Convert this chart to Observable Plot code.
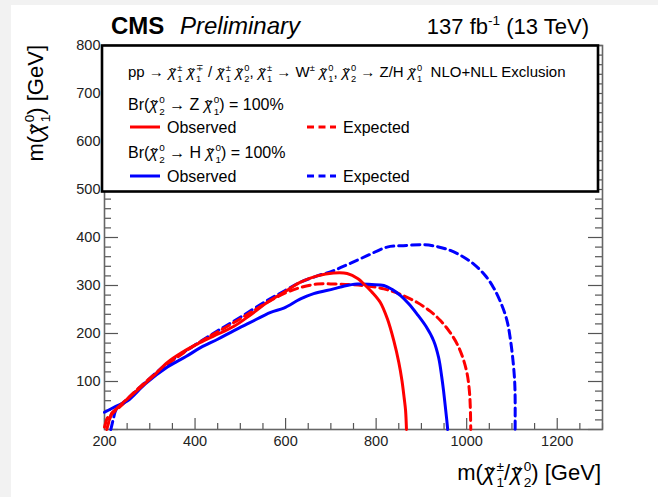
<!DOCTYPE html>
<html><head><meta charset="utf-8">
<script src="https://cdn.jsdelivr.net/npm/d3@7"></script>
<script src="https://cdn.jsdelivr.net/npm/@observablehq/plot@0.6"></script>
<style>
body{margin:0;background:#f2f2f2;}
#chart svg{display:block;}
</style>
</head><body><div id="chart"></div>
<script>
// ---- data (GeV) ----
const xTickLabels = [200, 400, 600, 800, 1000, 1200];
const yTickLabels = [100, 200, 300, 400, 500, 600, 700, 800];
const xMinor = d3.range(200, 1301, 50);
const yMinor = d3.range(0, 801, 20);

const obsZ = [[200,5],[203,15],[207,25],[211,21],[216,34],[225,42],[240,55],[251,64],[280,88],[310,113],[339,140],[370,160],[405,178],[440,194],[486,215],[520,237],[560,265],[600,288],[633,307],[670,320],[706,326],[736,325],[760,314],[773,303],[790,287],[809,265],[825,230],[839,185],[850,140],[857,102],[862,65],[865,40],[867,0]];
const expZ = [[205,0],[209,14],[214,29],[225,40],[240,52],[251,64],[280,90],[320,122],[360,150],[400,176],[449,203],[490,225],[523,244],[560,265],[596,283],[630,295],[670,303],[710,303],[743,302],[780,299],[817,293],[850,283],[890,265],[920,246],[942,227],[962,204],[979,178],[992,148],[1001,116],[1006,80],[1008,46],[1009,0]];
const obsH = [[200,36],[225,48],[251,60],[290,95],[339,130],[380,152],[413,171],[450,188],[486,206],[520,222],[567,244],[596,253],[633,272],[662,283],[706,293],[730,299],[758,303],[790,302],[817,300],[835,292],[854,279],[872,262],[890,241],[910,215],[927,185],[938,150],[945,109],[949,80],[953,46],[956,20],[958,0]];
const expH = [[214,0],[219,20],[224,38],[229,46],[240,55],[251,64],[290,98],[339,138],[400,176],[449,205],[500,234],[560,269],[600,290],[633,307],[670,320],[706,331],[740,345],[780,362],[824,380],[860,383],[905,385],[935,381],[964,373],[990,361],[1015,345],[1040,322],[1059,296],[1075,265],[1089,227],[1097,185],[1103,137],[1106,100],[1107,67],[1107,0]];

// ---- layout ----
const W = 658, H = 497;
const ml = 104, mr = 56, mt = 45, mb = 68;
const xDom = [200, 1300], yDom = [0, 800];
const kx = (xDom[1]-xDom[0])/(W-ml-mr);
const ky = (yDom[1]-yDom[0])/(H-mt-mb);
const RED = "#ff0000", BLUE = "#0000ff";
const tickC = "#555";
const lw = 3, dash = "8,5";

const lineOpts = (c, d) => ({x: p => p[0], y: p => p[1], stroke: c, strokeWidth: lw, strokeDasharray: d, curve: "catmull-rom"});

const chart = Plot.plot({
  width: W, height: H,
  marginLeft: ml, marginRight: mr, marginTop: mt, marginBottom: mb,
  x: {domain: xDom}, y: {domain: yDom},
  style: {fontFamily: "'Liberation Sans', Arial, sans-serif", fontSize: "14.5px", background: "transparent", color: "#222"},
  marks: [
    Plot.ruleX(xMinor, {x: d => d, y1: 0, y2: d => (d % 200 === 0 ? 11 : 6) * ky, stroke: tickC, strokeWidth: 1.2}),
    Plot.ruleY(yMinor, {y: d => d, x1: 200, x2: d => 200 + (d % 100 === 0 ? 14 : 7) * kx, stroke: tickC, strokeWidth: 1.2}),
    Plot.ruleY(yMinor, {y: d => d, x1: d => 1300 - (d % 100 === 0 ? 14 : 7) * kx, x2: 1300, stroke: tickC, strokeWidth: 1.2}),
    Plot.frame({stroke: "#666", strokeWidth: 1.6}),
    Plot.axisX(xTickLabels, {tickSize: 0, tickPadding: 6, label: null, fontSize: 14.5, tickFormat: d => String(d)}),
    Plot.axisY(yTickLabels, {tickSize: 0, tickPadding: 4, label: null, fontSize: 14.5, tickFormat: d => String(d)}),
    Plot.line(expH, lineOpts(BLUE, dash)),
    Plot.line(expZ, lineOpts(RED, dash)),
    Plot.line(obsH, lineOpts(BLUE, null)),
    Plot.line(obsZ, lineOpts(RED, null))
  ]
});
document.getElementById("chart").appendChild(chart);

const svg = d3.select(chart);
svg.style("background", "#f2f2f2");
svg.insert("rect", ":first-child").attr("x", 11).attr("y", 5).attr("width", W-11).attr("height", H-5).attr("fill", "#fff");

const FONT = "'Liberation Sans', Arial, sans-serif";
function txt(parent, x, y, s, size) {
  return parent.append("text").attr("x", x).attr("y", y).attr("font-family", FONT)
    .attr("font-size", size).attr("text-anchor", "start").attr("fill", "#000").text(s);
}
// rich text: #c(sup,sub) = chi-tilde with stacked scripts, ^(sup) = superscript
function rich(parent, x, y, str, size) {
  const t = parent.append("text").attr("x", x).attr("y", y).attr("text-anchor", "start")
    .attr("font-size", size).attr("font-family", FONT).attr("fill", "#000");
  const re = /#c\(([^,]*),([^)]*)\)|\^\(([^)]*)\)/g;
  const ss = size * 0.62;
  let last = 0, m, pad = 0;
  const len = s => s.node().getComputedTextLength();
  const plain = s => { const sp = t.append("tspan").attr("y", y).text(s); if (pad) sp.attr("dx", pad); pad = 0; };
  while ((m = re.exec(str))) {
    if (m.index > last) plain(str.slice(last, m.index));
    if (m[3] !== undefined) {
      t.append("tspan").attr("y", y - size * 0.4).attr("font-size", ss).text(m[3]);
    } else {
      const c = t.append("tspan").attr("y", y).attr("font-style", "italic").text("\u03C7");
      if (pad) c.attr("dx", pad); pad = 0;
      const wc = len(c);
      const tl = t.append("tspan").attr("y", y + size * 0.08).attr("font-size", size * 0.9).text("\u02DC");
      const wt = len(tl);
      tl.attr("dx", -(wc / 2 + wt / 2) + size * 0.05);
      const sup = t.append("tspan").attr("y", y - size * 0.42).attr("font-size", ss).text(m[1])
        .attr("dx", wc / 2 - wt / 2 + size * 0.02);
      const ws = len(sup);
      const sub = t.append("tspan").attr("dx", -ws).attr("y", y + size * 0.3).attr("font-size", ss).text(m[2]);
      const wb = len(sub);
      pad = Math.max(0, ws - wb);
    }
    last = re.lastIndex;
  }
  if (last < str.length) plain(str.slice(last));
  return t;
}
function rightAlign(t, xr) {
  const w = t.node().getBBox().width;
  t.attr("x", xr - w);
}

// title
txt(svg, 111, 34, "CMS", 24).attr("font-weight", "bold");
txt(svg, 180, 34, "Preliminary", 24).attr("font-style", "italic");
const lumi = rich(svg, 0, 34, "137 fb^(-1) (13 TeV)", 22);
rightAlign(lumi, 589);

// axis titles
const xl = rich(svg, 0, 480, "m(#c(\u00B1,1)/#c(0,2)) [GeV]", 22);
rightAlign(xl, 601);
const gy = svg.append("g").attr("transform", "translate(43,45) rotate(-90)");
const yl = rich(gy, 0, 0, "m(#c(0,1)) [GeV]", 22);
yl.attr("x", -yl.node().getBBox().width);

// legend box
svg.append("rect").attr("x", 102).attr("y", 45.5).attr("width", 496).attr("height", 146)
  .attr("fill", "#fff").attr("stroke", "#000").attr("stroke-width", 2.6);
rich(svg, 128, 77, "pp \u2192 #c(\u00B1,1) #c(\u2213,1) / #c(\u00B1,1) #c(0,2), #c(\u00B1,1) \u2192 W^(\u00B1) #c(0,1), #c(0,2) \u2192 Z/H #c(0,1)  NLO+NLL Exclusion", 15);
rich(svg, 128, 110, "Br(#c(0,2) \u2192 Z #c(0,1)) = 100%", 16);
rich(svg, 128, 158, "Br(#c(0,2) \u2192 H #c(0,1)) = 100%", 16);
const legRows = [{y: 127, c: RED}, {y: 176, c: BLUE}];
for (const r of legRows) {
  svg.append("line").attr("x1", 130).attr("x2", 160).attr("y1", r.y).attr("y2", r.y).attr("stroke", r.c).attr("stroke-width", lw);
  svg.append("line").attr("x1", 307).attr("x2", 336).attr("y1", r.y).attr("y2", r.y).attr("stroke", r.c).attr("stroke-width", lw).attr("stroke-dasharray", "7,4.5");
  txt(svg, 167, r.y + 6, "Observed", 16);
  txt(svg, 343, r.y + 6, "Expected", 16);
}
</script>
</body></html>
